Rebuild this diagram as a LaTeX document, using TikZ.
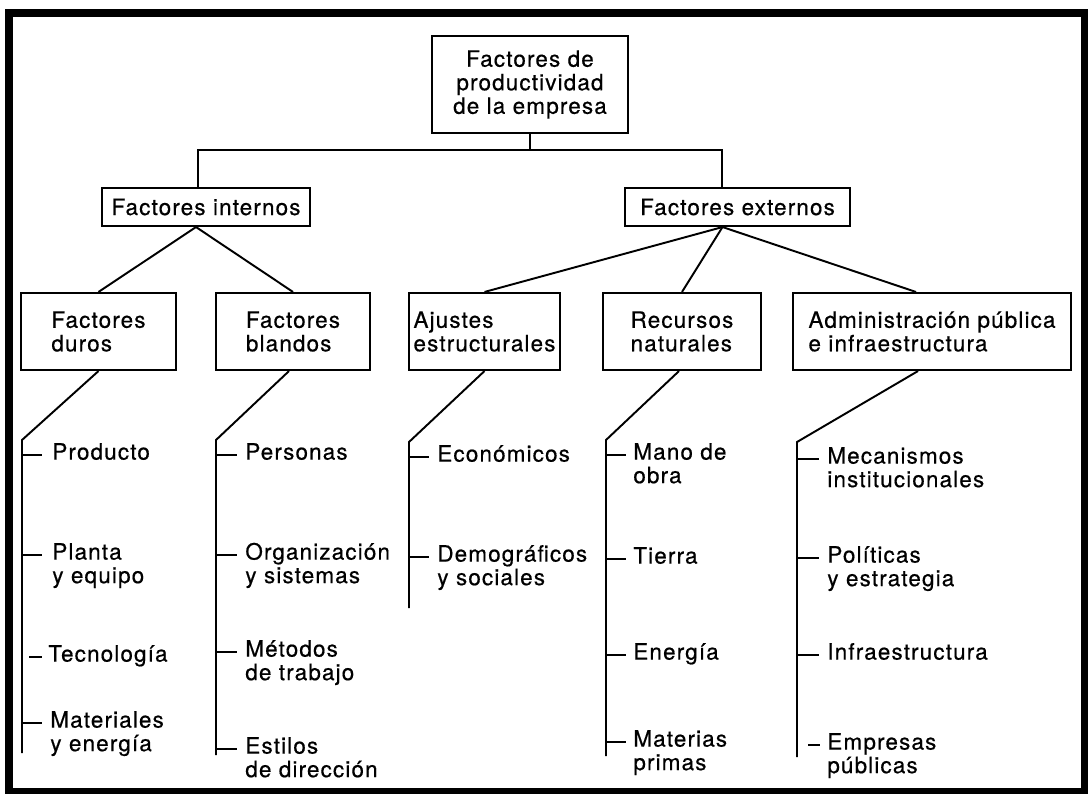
\documentclass[tikz,border=0pt]{standalone}
\usepackage{fontspec}
\setmainfont{TeX Gyre Heros}[LetterSpace=5, FakeBold=0.5]
\usetikzlibrary{positioning, calc}
\newcommand{\twoline}[2]{\begin{tabular}[t]{@{}l@{}}#1\\#2\end{tabular}}

\begin{document}
\begin{tikzpicture}[
        x=0.02cm, y=-0.02cm,
        box/.style={rectangle, draw=black, line width=1.2pt, inner sep=2pt, font=\fontsize{12.8}{13.4}\selectfont},
        leaf/.style={anchor=mid west, inner sep=0pt, font=\fontsize{12.8}{13.4}\selectfont},
        link/.style={draw=black, line width=1.1pt}
    ]
        \useasboundingbox (0,0) rectangle (1088,794);
        \draw[line width=4.55pt] (9,13) rectangle (1084.5,792);
        % top and first level
        \node[box, align=center, minimum width=3.92cm, minimum height=1.94cm] (top) at (530,84.5) {Factores de\\productividad\\de la empresa};
        \node[box, minimum width=4.16cm, minimum height=0.76cm] (internos) at (206,207) {Factores internos};
        \node[box, minimum width=4.5cm, minimum height=0.76cm] (externos) at (737.5,207) {Factores externos};
        \coordinate (bl) at (198,150);
        \coordinate (br) at (722,150);
        \draw[link] (top.south) -- (top.south |- bl);
        \draw[link] (internos.north -| bl) -- (bl) -- (br) -- (externos.north -| br);
        % second level
        \node[box, align=left, minimum width=3.1cm, minimum height=1.54cm] (duros) at (98.5,331.5) {Factores\\duros};
        \node[box, align=left, minimum width=3.08cm, minimum height=1.54cm] (blandos) at (293,331.5) {Factores\\blandos};
        \node[box, align=left, minimum width=3.02cm, minimum height=1.54cm] (ajustes) at (484.5,331.5) {Ajustes\\estructurales};
        \node[box, align=left, minimum width=3.16cm, minimum height=1.54cm] (recursos) at (682,331.5) {Recursos\\naturales};
        \node[box, align=left, minimum width=5.56cm, minimum height=1.54cm] (admin) at (932,331.5) {Administración pública\\e infraestructura};
        \draw[link] ($(internos.south)+(-10,0)$) -- (duros.north);
        \draw[link] ($(internos.south)+(-10,0)$) -- (blandos.north);
        \draw[link] ($(externos.south)+(-15,0)$) -- (ajustes.north);
        \draw[link] ($(externos.south)+(-15,0)$) -- (recursos.north);
        \draw[link] ($(externos.south)+(-15,0)$) -- ($(admin.north)+(-16,0)$);
        % stems
        \coordinate (sA) at (22,440);  \coordinate (eA) at (22,753);
        \coordinate (sB) at (216,440); \coordinate (eB) at (216,755);
        \coordinate (sC) at (409,442); \coordinate (eC) at (409,608);
        \coordinate (sD) at (606,440); \coordinate (eD) at (606,756);
        \coordinate (sE) at (797,442); \coordinate (eE) at (797,757);
        \draw[link] (duros.south) -- (sA) -- (eA);
        \draw[link] ($(blandos.south)+(-4,0)$) -- (sB) -- (eB);
        \draw[link] (ajustes.south) -- (sC) -- (eC);
        \draw[link] ($(recursos.south)+(-3,0)$) -- (sD) -- (eD);
        \draw[link] ($(admin.south)+(-14,0)$) -- (sE) -- (eE);
        % leaves: factores duros
        \node[leaf] (producto) at (52,455) {Producto};
        \node[leaf] (planta) at (52,555) {\twoline{Planta}{y equipo}};
        \node[leaf] (tecnologia) at (48,657) {Tecnología};
        \node[leaf] (materiales) at (50,723) {\twoline{Materiales}{y energía}};
        \draw[link] (sA |- producto.mid west) -- ++(20,0);
        \draw[link] (sA |- planta.mid west) -- ++(20,0);
        \draw[link] ($(tecnologia.mid west)+(-19,0)$) -- ++(13,0);
        \draw[link] (sA |- materiales.mid west) -- ++(20,0);
        % leaves: factores blandos
        \node[leaf] (personas) at (245,455) {Personas};
        \node[leaf] (organizacion) at (245,555) {\twoline{Organización}{y sistemas}};
        \node[leaf] (metodos) at (245,652) {\twoline{Métodos}{de trabajo}};
        \node[leaf] (estilos) at (245,749) {\twoline{Estilos}{de dirección}};
        \draw[link] (sB |- personas.mid west) -- ++(21,0);
        \draw[link] (sB |- organizacion.mid west) -- ++(21,0);
        \draw[link] (sB |- metodos.mid west) -- ++(21,0);
        \draw[link] (sB |- estilos.mid west) -- ++(21,0);
        % leaves: ajustes estructurales
        \node[leaf] (economicos) at (437,457) {Económicos};
        \node[leaf] (demograficos) at (437,557) {\twoline{Demográficos}{y sociales}};
        \draw[link] (sC |- economicos.mid west) -- ++(20,0);
        \draw[link] (sC |- demograficos.mid west) -- ++(20,0);
        % leaves: recursos naturales
        \node[leaf] (mano) at (633,455) {\twoline{Mano de}{obra}};
        \node[leaf] (tierra) at (633,559) {Tierra};
        \node[leaf] (energia) at (633,655) {Energía};
        \node[leaf] (materias) at (633,742) {\twoline{Materias}{primas}};
        \draw[link] (sD |- mano.mid west) -- ++(20,0);
        \draw[link] (sD |- tierra.mid west) -- ++(20,0);
        \draw[link] (sD |- energia.mid west) -- ++(20,0);
        \draw[link] (sD |- materias.mid west) -- ++(20,0);
        % leaves: administracion publica
        \node[leaf] (mecanismos) at (827,459) {\twoline{Mecanismos}{institucionales}};
        \node[leaf] (politicas) at (827,558) {\twoline{Políticas}{y estrategia}};
        \node[leaf] (infra) at (827,655) {Infraestructura};
        \node[leaf] (empresas) at (827,745) {\twoline{Empresas}{públicas}};
        \draw[link] (sE |- mecanismos.mid west) -- ++(22,0);
        \draw[link] (sE |- politicas.mid west) -- ++(22,0);
        \draw[link] (sE |- infra.mid west) -- ++(22,0);
        \draw[link] ($(empresas.mid west)+(-19,0)$) -- ++(12,0);
    \end{tikzpicture}
\end{document}
